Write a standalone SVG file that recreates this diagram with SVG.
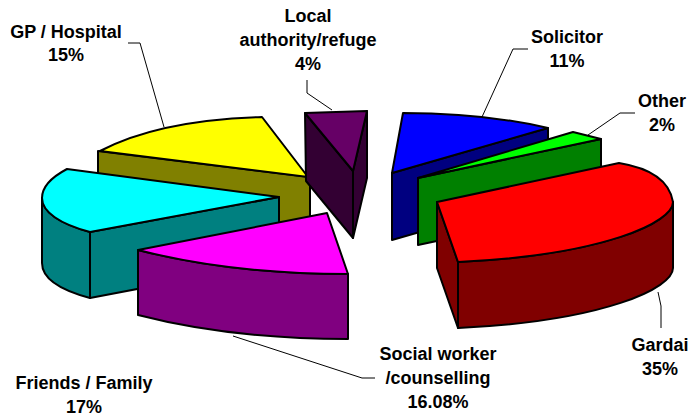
<svg xmlns="http://www.w3.org/2000/svg" width="696" height="416" viewBox="0 0 696 416">
<style>
.s{stroke:#000;stroke-width:2;stroke-linejoin:round}
.ld{fill:none;stroke:#000;stroke-width:1}
.t{font-family:"Liberation Sans",Arial,Helvetica,sans-serif;font-weight:bold;font-size:18px;fill:#000;text-anchor:middle}
</style>
<rect width="696" height="416" fill="#fff"/>
<g id="gp-hospital">
<path class="s" fill="#808000" d="M98 151 L310 177 L310 242 L98 216 Z"/>
<path class="s" fill="#FFFF00" d="M100 151 Q159 120 262 117 L308 177 Z"/>
<text class="t" x="66" y="38">GP / Hospital</text>
<text class="t" x="66" y="61">15%</text>
</g>
<g id="local-authority">
<path class="s" fill="#330033" d="M305 113 L353 171 L353 238 L306 181 Z"/>
<path class="s" fill="#330033" d="M367 111 L367 178 L353 238 L353 171 Z"/>
<path class="s" fill="#660066" d="M305 113 L367 111 L353 171 Z"/>
<text class="t" x="308" y="22">Local</text>
<text class="t" x="308" y="46">authority/refuge</text>
<text class="t" x="308" y="70">4%</text>
</g>
<g id="solicitor">
<path class="s" fill="#000080" d="M392 173 L548 128 L548 195 L392 240 Z"/>
<path class="s" fill="#0000FF" d="M392 173 L403 113 Q484 113 548 128 Z"/>
<text class="t" x="567" y="43">Solicitor</text>
<text class="t" x="567" y="67">11%</text>
</g>
<g id="other">
<path class="s" fill="#008000" d="M418 178 L601 139 L601 206 L418 245 Z"/>
<path class="s" fill="#00FF00" d="M418 178 L573 132 L601 139 Z"/>
<text class="t" x="662" y="107">Other</text>
<text class="t" x="662" y="131">2%</text>
</g>
<g id="friends-family">
<path class="s" fill="#008080" d="M42 198 C42 212 60 224 90 232 L90 298 C60 290 42 278 42 263 Z"/>
<path class="s" fill="#008080" d="M90 232 L279 197 L279 262 L90 298 Z"/>
<path class="s" fill="#00FFFF" d="M279 197 L67 169 C50 178 42 188 42 198 C42 212 60 224 90 232 Z"/>
<text class="t" x="84" y="389">Friends / Family</text>
<text class="t" x="84" y="413">17%</text>
</g>
<g id="social-worker">
<path class="s" fill="#800080" d="M138 250 Q231 274 348 274 L348 339 Q231 339 138 315 Z"/>
<path class="s" fill="#FF00FF" d="M138 250 L327 213 L348 274 Q231 274 138 250 Z"/>
<text class="t" x="438" y="360">Social worker</text>
<text class="t" x="438" y="384">/counselling</text>
<text class="t" x="438" y="408">16.08%</text>
</g>
<g id="gardai">
<path class="s" fill="#800000" d="M437 202 L458 262 L458 328 L437 268 Z"/>
<path class="s" fill="#800000" d="M458 262 C605 255 673 222 673 202 L673 268 C673 288 605 321 458 328 Z"/>
<path class="s" fill="#FF0000" d="M437 202 L619 163 Q668 171 673 202 C673 222 605 255 458 262 Z"/>
<text class="t" x="660" y="351">Gardai</text>
<text class="t" x="660" y="375">35%</text>
</g>
<g id="connectors">
<path class="ld" d="M128 43 L140 43 L164 127"/>
<path class="ld" d="M307 80 L307 93 L332 110"/>
<path class="ld" d="M528 49 L513 49 L482 117"/>
<path class="ld" d="M635 113 L620 113 L588 135"/>
<path class="ld" d="M658 292 L661 306 L661 328"/>
<path class="ld" d="M233 336 L362 378 L375 378"/>
</g>
</svg>
